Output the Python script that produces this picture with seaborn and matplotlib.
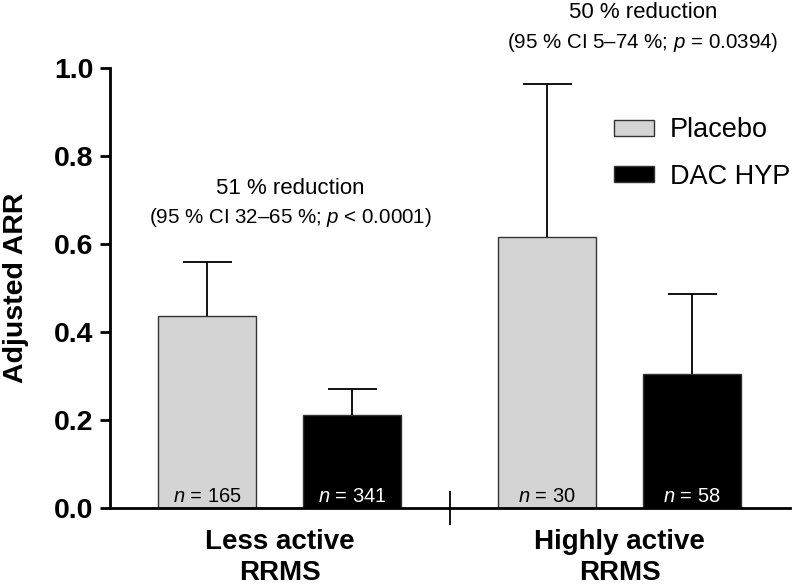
import matplotlib
matplotlib.use("Agg")
import matplotlib.pyplot as plt
import pandas as pd
import seaborn as sns

# values
groups     = ["Less active\nRRMS", "Highly active\nRRMS"]
treatments = ["Placebo", "DAC HYP"]
arr_placebo = [0.436, 0.616]
arr_dac     = [0.211, 0.305]
upper_placebo = [0.559, 0.964]
upper_dac     = [0.270, 0.486]
n_placebo = [165, 30]
n_dac     = [341, 58]
reduction_lines = [
    ("51 % reduction", r"(95 % CI 32–65 %; $\it{p}$ < 0.0001)"),
    ("50 % reduction", r"(95 % CI 5–74 %; $\it{p}$ = 0.0394)"),
]

df = pd.DataFrame({
    "group":     groups * 2,
    "treatment": [treatments[0]] * 2 + [treatments[1]] * 2,
    "arr":       arr_placebo + arr_dac,
    "upper":     upper_placebo + upper_dac,
    "n":         n_placebo + n_dac,
})

sns.set_style("ticks")
plt.rcParams["font.family"] = ["Liberation Sans", "DejaVu Sans"]
plt.rcParams["mathtext.fontset"] = "custom"
plt.rcParams["mathtext.it"] = "Liberation Sans:italic"
plt.rcParams["mathtext.rm"] = "Liberation Sans"
for key in ["text.color", "axes.labelcolor", "xtick.color", "ytick.color", "axes.edgecolor"]:
    plt.rcParams[key] = "black"

fig = plt.figure(figsize=(7.96, 5.87), dpi=100)
ax = fig.add_axes([0.138, 0.1346, 0.854, 0.7496])

palette = {"Placebo": "#d4d4d4", "DAC HYP": "#000000"}
sns.barplot(data=df, x="group", y="arr", hue="treatment", hue_order=treatments,
            palette=palette, width=0.853, gap=0.325, errorbar=None,
            edgecolor="#333333", linewidth=1.0, saturation=1, ax=ax)

# upper-only error bars and n labels, positioned from the drawn bars
cap_half = 0.072
bars = [p for p in ax.patches if p.get_height() > 0][:4]
for bar, (_, row) in zip(bars, df.iterrows()):
    cx = bar.get_x() + bar.get_width() / 2
    top = bar.get_height()
    ax.vlines(cx, top, row["upper"], color="black", linewidth=1.3, zorder=1)
    ax.hlines(row["upper"], cx - cap_half, cx + cap_half, color="black",
              linewidth=1.3, zorder=1)
    color = "black" if row["treatment"] == "Placebo" else "white"
    ax.text(cx, 0.025, rf"$\it{{n}}$ = {row['n']}", ha="center", va="center",
            fontsize=14.5, color=color)

# reduction annotations
ann_x = [0.032, 1.068]
ann_y = [(0.725, 0.661), (1.125, 1.057)]
for (l1, l2), x, (y1, y2) in zip(reduction_lines, ann_x, ann_y):
    ax.text(x, y1, l1, ha="center", va="center", fontsize=16, clip_on=False)
    ax.text(x, y2, l2, ha="center", va="center", fontsize=14.8, clip_on=False)

ax.set_xlim(-0.5, 1.5)
ax.set_ylim(0, 1.0)
ax.set_yticks([0.0, 0.2, 0.4, 0.6, 0.8, 1.0])
ax.set_yticklabels(["0.0", "0.2", "0.4", "0.6", "0.8", "1.0"],
                   fontsize=20.5, fontweight="bold")
ax.set_xticks([0, 1])
ax.set_xticklabels(groups, fontsize=20, fontweight="bold", linespacing=1.25)
ax.tick_params(axis="x", which="major", length=0, pad=15)
ax.set_xticks([0.5], minor=True)
ax.tick_params(axis="x", which="minor", direction="inout", length=25, width=1.3)
ax.tick_params(axis="y", length=7, width=2, pad=5)
ax.set_xlabel("")
ax.set_ylabel("Adjusted ARR", fontsize=20.5, fontweight="bold", labelpad=18)

sns.despine(ax=ax)
for side in ["left", "bottom"]:
    ax.spines[side].set_linewidth(2)

leg = ax.legend(loc="upper left", bbox_to_anchor=(0.741, 0.888), frameon=False,
                fontsize=19.5, handlelength=1.48, handleheight=0.55,
                labelspacing=0.75, handletextpad=0.6, borderaxespad=0,
                borderpad=0)

fig.savefig("out.png", dpi=100)
plt.close(fig)
